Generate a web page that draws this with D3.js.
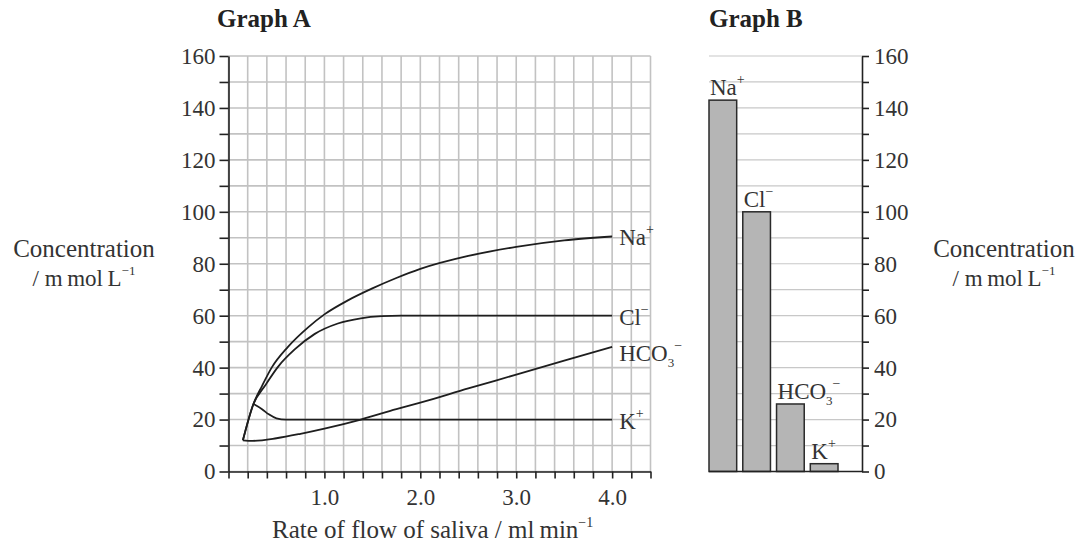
<!DOCTYPE html>
<html>
<head>
<meta charset="utf-8">
<script src="https://cdn.jsdelivr.net/npm/d3@7"></script>
<style>
  body { margin: 0; background: #fff; }
  svg { display: block; font-family: 'Liberation Serif', 'Times New Roman', serif; }
</style>
</head>
<body>
<svg></svg>
<script>
// Graph A: concentration against rate of flow, [flow, mmol/L]
var naFlow = [[0.15, 12], [0.26, 26], [0.35, 33], [0.45, 40], [0.62, 48], [0.83, 55.5], [1.0, 60.5], [1.25, 66], [1.5, 70.5], [1.75, 74.5], [2.0, 78], [2.5, 83], [3.0, 86.5], [3.5, 89], [4.0, 90.5]]
var clFlow = [[0.15, 12], [0.26, 26], [0.38, 33], [0.52, 40.5], [0.69, 47], [0.9, 53], [1.14, 57], [1.38, 59], [1.6, 59.8], [1.8, 60], [2.0, 60], [3.0, 60], [4.0, 60]]
var hco3Flow = [[0.15, 12], [0.25, 11.8], [0.5, 12.8], [0.75, 14.5], [1.0, 16.5], [1.38, 20], [1.75, 24], [2.0, 26.5], [2.5, 32], [3.0, 37.3], [3.5, 42.7], [4.0, 48]]
var kFlow = [[0.26, 26], [0.35, 24], [0.42, 22], [0.5, 20.5], [0.6, 20], [1.0, 20], [2.0, 20], [3.0, 20], [4.0, 20]]

// Graph B: plasma concentrations
var ionNames = ['Na', 'Cl', 'HCO', 'K']
var ionSub = ['', '', '3', '']
var ionCharge = ['+', '\u2212', '\u2212', '+']
var plasma = [143, 100, 26, 3]

var yTicks = [0, 10, 20, 30, 40, 50, 60, 70, 80, 90, 100, 110, 120, 130, 140, 150, 160]
var yLabels = [0, 20, 40, 60, 80, 100, 120, 140, 160]
var xTicks = [0, 0.2, 0.4, 0.6, 0.8, 1.0, 1.2, 1.4, 1.6, 1.8, 2.0, 2.2, 2.4, 2.6, 2.8, 3.0, 3.2, 3.4, 3.6, 3.8, 4.0, 4.2, 4.4]
var xLabels = ['1.0', '2.0', '3.0', '4.0']

var width = 1083
var height = 551

var svg = d3.select('svg')
  .attr('width', width)
  .attr('height', height)

var y = d3.scaleLinear().domain([0, 160]).range([471.5, 56])
var xA = d3.scaleLinear().domain([0, 4.4]).range([228.5, 650.5])

var bx = d3.scaleBand()
  .domain(ionNames)
  .range([709, 838])
  .paddingInner(0.18)
  .paddingOuter(0)
var bRight = 862
var bLeft = 709

// ---- Graph A grid
var gridA = svg.append('g').attr('stroke', '#c2c2c2').attr('stroke-width', 1.6)
gridA.selectAll('line.v')
  .data(xTicks)
  .enter()
  .append('line')
  .attr('x1', d => xA(d))
  .attr('x2', d => xA(d))
  .attr('y1', y(0))
  .attr('y2', y(160))
gridA.selectAll('line.h')
  .data(yTicks)
  .enter()
  .append('line')
  .attr('x1', xA(0))
  .attr('x2', xA(4.4))
  .attr('y1', d => y(d))
  .attr('y2', d => y(d))

// ---- Graph B grid
svg.append('g')
  .attr('stroke', '#c8c8c8')
  .attr('stroke-width', 1.2)
  .selectAll('line')
  .data(yTicks.slice(1))
  .enter()
  .append('line')
  .attr('x1', bLeft)
  .attr('x2', bRight)
  .attr('y1', d => y(d))
  .attr('y2', d => y(d))

function styleAxis(g) {
  g.attr('font-family', null).attr('font-size', 23)
  g.selectAll('path, line').attr('stroke', '#222').attr('stroke-width', 1.6)
  g.selectAll('text').attr('fill', '#333')
}

// ---- Graph A axes
svg.append('g')
  .attr('transform', `translate(${xA(0)},0)`)
  .call(d3.axisLeft(y)
    .tickValues(yTicks)
    .tickSize(9)
    .tickSizeOuter(0)
    .tickPadding(4)
    .tickFormat(d => yLabels.includes(d) ? d : ''))
  .call(styleAxis)

svg.append('g')
  .attr('transform', `translate(0,${y(0)})`)
  .call(d3.axisBottom(xA)
    .tickValues(xTicks)
    .tickSize(7)
    .tickSizeOuter(0)
    .tickPadding(10)
    .tickFormat(d => {
      var s = d3.format('.1f')(d)
      return xLabels.includes(s) ? s : ''
    }))
  .call(styleAxis)

// ---- Graph A curves
var line = d3.line()
  .x(d => xA(d[0]))
  .y(d => y(d[1]))
  .curve(d3.curveMonotoneX)

var flows = [naFlow, clFlow, hco3Flow, kFlow]
var labelNudge = [0, 0, 5, 0]

svg.append('g')
  .selectAll('path')
  .data(flows)
  .enter()
  .append('path')
  .attr('fill', 'none')
  .attr('stroke', '#1e1e1e')
  .attr('stroke-width', 1.8)
  .attr('d', line)

function ionLabel(sel, i) {
  var t = sel.append('text').attr('font-size', 23).attr('fill', '#333')
  t.append('tspan').text(ionNames[i])
  if (ionSub[i]) {
    t.append('tspan').attr('font-size', 13).attr('dy', 6).text(ionSub[i])
    t.append('tspan').attr('font-size', 14).attr('dy', -17).text(ionCharge[i])
  } else {
    t.append('tspan').attr('font-size', 14).attr('dy', -11).text(ionCharge[i])
  }
  return t
}

flows.forEach((f, i) => {
  var last = f[f.length - 1]
  ionLabel(svg, i)
    .attr('x', xA(last[0]) + 7)
    .attr('y', y(last[1]) + 9 + labelNudge[i])
})

// ---- Graph B bars
svg.append('g')
  .selectAll('rect')
  .data(plasma)
  .enter()
  .append('rect')
  .attr('x', (d, i) => bx(ionNames[i]))
  .attr('y', d => y(d))
  .attr('width', bx.bandwidth())
  .attr('height', d => y(0) - y(d))
  .attr('fill', '#b5b5b5')
  .attr('stroke', '#2a2a2a')
  .attr('stroke-width', 1.5)

plasma.forEach((d, i) => {
  ionLabel(svg, i)
    .attr('x', bx(ionNames[i]) + 1)
    .attr('y', y(d) - 5)
})

svg.append('line')
  .attr('x1', bLeft)
  .attr('x2', bRight)
  .attr('y1', y(0))
  .attr('y2', y(0))
  .attr('stroke', '#222')
  .attr('stroke-width', 1.6)

svg.append('g')
  .attr('transform', `translate(${bRight},0)`)
  .call(d3.axisRight(y)
    .tickValues(yTicks)
    .tickSize(7)
    .tickSizeOuter(0)
    .tickPadding(5)
    .tickFormat(d => yLabels.includes(d) ? d : ''))
  .call(styleAxis)

// ---- titles
svg.append('text')
  .attr('x', 217)
  .attr('y', 27)
  .attr('font-size', 25)
  .attr('font-weight', 'bold')
  .attr('fill', '#222')
  .text('Graph A')

svg.append('text')
  .attr('x', 709)
  .attr('y', 27)
  .attr('font-size', 25)
  .attr('font-weight', 'bold')
  .attr('fill', '#222')
  .text('Graph B')

function concLabel(cx) {
  var g = svg.append('g').attr('fill', '#333').attr('text-anchor', 'middle')
  g.append('text')
    .attr('x', cx)
    .attr('y', 257)
    .attr('font-size', 25)
    .text('Concentration')
  var t = g.append('text')
    .attr('x', cx)
    .attr('y', 286)
    .attr('font-size', 23)
  t.append('tspan').text('/ m\u2009mol\u2009L')
  t.append('tspan').attr('font-size', 13).attr('dy', -11).text('\u22121')
}
concLabel(84)
concLabel(1004)

var xt = svg.append('text')
  .attr('x', 272)
  .attr('y', 538)
  .attr('font-size', 25)
  .attr('fill', '#333')
xt.append('tspan').text('Rate of flow of saliva / ml\u2009min')
xt.append('tspan').attr('font-size', 14).attr('dy', -11).text('\u22121')
</script>
</body>
</html>
